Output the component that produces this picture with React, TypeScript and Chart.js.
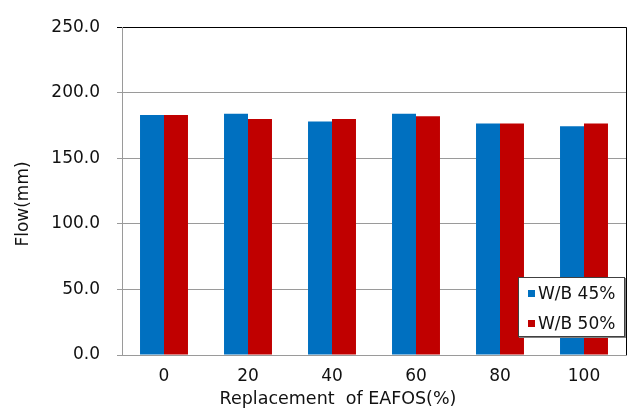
import React, { useEffect, useRef } from "react";
import { Chart, registerables } from "chart.js";

Chart.register(...registerables);

const categories = ["0", "20", "40", "60", "80", "100"];
const wb45 = [183, 184, 178, 184, 176.5, 174.5];
const wb50 = [183, 180, 180, 182, 176.5, 176.5];
const seriesLabels = ["W/B 45%", "W/B 50%"];
const seriesColors = ["#0070C0", "#C00000"];
const xTitle = "Replacement  of EAFOS(%)";
const yTitle = "Flow(mm)";

const FONT = "'DejaVu Sans', sans-serif";

export default function App() {
  const ref = useRef<HTMLCanvasElement | null>(null);

  useEffect(() => {
    if (!ref.current) return;
    const titlesPlugin = {
      id: "titlesAndBorder",
      afterDraw(chart: any) {
        const ctx = chart.ctx;
        const a = chart.chartArea;
        ctx.save();
        ctx.strokeStyle = "#000000";
        ctx.lineWidth = 1;
        ctx.beginPath();
        ctx.moveTo(a.right + 0.5, a.top);
        ctx.lineTo(a.right + 0.5, a.bottom);
        ctx.stroke();
        ctx.fillStyle = "#111111";
        ctx.font = "17.5px " + FONT;
        ctx.textAlign = "center";
        ctx.textBaseline = "middle";
        ctx.fillText(xTitle, 338, 399);
        ctx.font = "17px " + FONT;
        ctx.translate(24, 204);
        ctx.rotate(-Math.PI / 2);
        ctx.fillText(yTitle, 0, 0);
        ctx.restore();
      },
    };
    const chart = new Chart(ref.current, {
      type: "bar",
      data: {
        labels: categories,
        datasets: [
          { label: seriesLabels[0], data: wb45, backgroundColor: seriesColors[0] },
          { label: seriesLabels[1], data: wb50, backgroundColor: seriesColors[1] },
        ],
      },
      options: {
        animation: false,
        responsive: false,
        devicePixelRatio: 1,
        layout: { padding: { top: 17, right: 6, left: 0, bottom: 0 } },
        datasets: { bar: { barPercentage: 1, categoryPercentage: 0.571 } },
        plugins: { legend: { display: false }, tooltip: { enabled: false } },
        scales: {
          x: {
            grid: { display: false, drawTicks: false },
            border: { color: "#9a9a9a", width: 1 },
            ticks: { color: "#111111", font: { family: FONT, size: 17 }, padding: 11 },
            afterFit: (s: any) => { s.height = 59; },
          },
          y: {
            min: 0,
            max: 250,
            ticks: {
              stepSize: 50,
              color: "#111111",
              font: { family: FONT, size: 17 },
              padding: 17,
              callback: (v: any) => Number(v).toFixed(1),
            },
            grid: {
              color: (c: any) => (c.tick && c.tick.value === 250 ? "#000000" : "#9a9a9a"),
              tickLength: 5,
              lineWidth: 1,
            },
            border: { color: "#9a9a9a", width: 1 },
            afterFit: (s: any) => { s.width = 122; },
          },
        },
      },
      plugins: [titlesPlugin],
    });
    return () => chart.destroy();
  }, []);

  return (
    <div style={{ position: "fixed", left: 0, top: 0, width: 632, height: 414, background: "#fff" }}>
      <canvas ref={ref} width={632} height={414} style={{ display: "block" }} />
      <div
        style={{
          position: "absolute",
          left: 518,
          top: 277,
          width: 105,
          height: 58,
          background: "#fff",
          border: "1px solid #404040",
          boxShadow: "1px 1px 0 #808080",
          fontFamily: FONT,
          fontSize: 17,
          color: "#111111",
        }}
      >
        {seriesLabels.map((l, i) => (
          <div
            key={l}
            style={{ position: "absolute", left: 9, top: 5 + i * 30, height: 20, display: "flex", alignItems: "center", whiteSpace: "nowrap" }}
          >
            <span style={{ display: "inline-block", width: 7, height: 7, background: seriesColors[i], marginRight: 3 }} />
            <span>{l}</span>
          </div>
        ))}
      </div>
    </div>
  );
}
